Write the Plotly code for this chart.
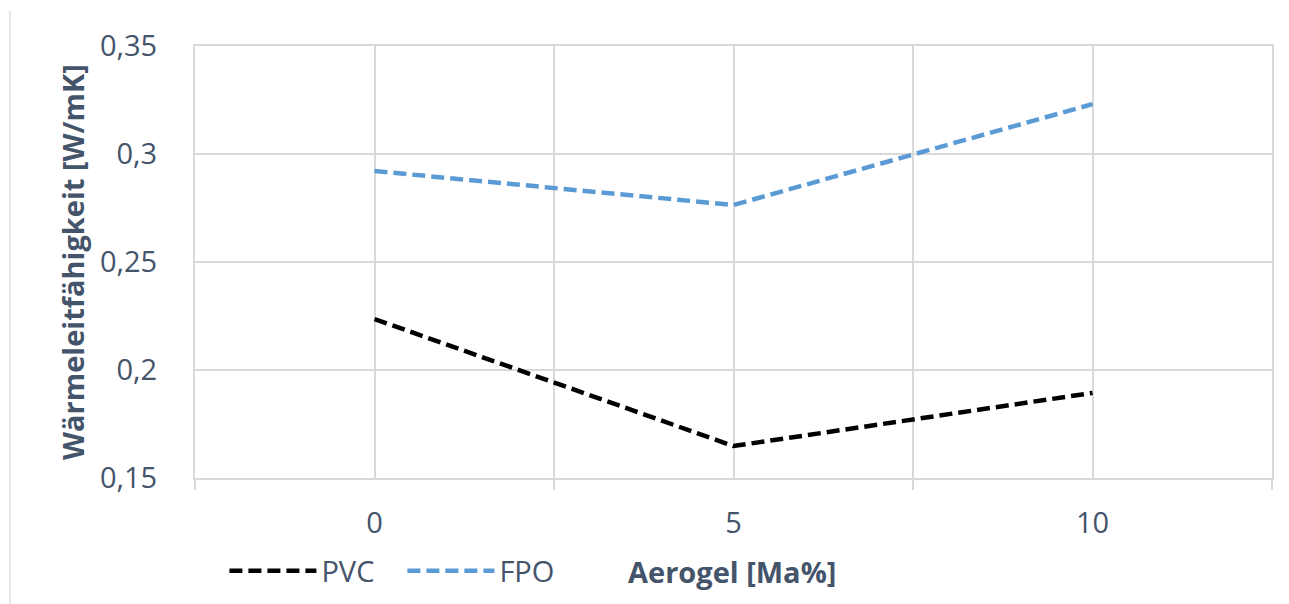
import plotly.graph_objects as go

aerogel = [0, 5, 10]
pvc = [0.2236, 0.1648, 0.1894]
fpo = [0.2921, 0.2764, 0.3231]
y_ticks = [0.15, 0.2, 0.25, 0.3, 0.35]
y_ticktext = ["0,15", "0,2", "0,25", "0,3", "0,35"]
x_ticks = [0, 5, 10]
x_ticktext = ["0", "5", "10"]
x_bounds = [-2.5, 2.5, 7.5, 12.5]

TXT = "#44546A"
GRID = "#D9D9D9"
FONT = "Open Sans"
FS = 29

FIG_H = 596
# plot area in page pixels: x 195..1272, y 46..478 ; page offset of 8px (body margin)
fig = go.Figure()
fig.add_trace(go.Scatter(x=aerogel, y=pvc, mode="lines", name="PVC",
                         line=dict(color="#000000", width=4.5, dash="13px,6px")))
fig.add_trace(go.Scatter(x=aerogel, y=fpo, mode="lines", name="FPO",
                         line=dict(color="#5B9BD5", width=4.5, dash="13px,6px")))

fig.update_layout(
    width=1281, height=FIG_H,
    margin=dict(l=187, r=17, t=38, b=126),
    paper_bgcolor="white", plot_bgcolor="white",
    font=dict(family=FONT, size=FS, color=TXT),
    showlegend=True,
    legend=dict(orientation="h", xref="paper", x=0.0273, xanchor="left",
                yref="container", y=1 - (571 - 8) / FIG_H, yanchor="middle",
                itemwidth=87, entrywidth=76, font=dict(family=FONT, size=FS, color=TXT),
                bgcolor="rgba(0,0,0,0)", tracegroupgap=0),
    xaxis=dict(range=[-2.5, 12.5], tickvals=x_ticks, ticktext=x_ticktext,
               showgrid=True, gridcolor=GRID, gridwidth=2, zeroline=False,
               showline=True, linecolor=GRID, linewidth=2, mirror=True,
               ticks="", ticklabelstandoff=18, automargin=False,
               minor=dict(tickvals=x_bounds, ticks="outside", ticklen=10, tickcolor=GRID,
                          tickwidth=2, showgrid=True, gridcolor=GRID, gridwidth=2),
               tickfont=dict(family=FONT, size=FS, color=TXT)),
    yaxis=dict(range=[0.15, 0.35], tickvals=y_ticks, ticktext=y_ticktext,
               showgrid=True, gridcolor=GRID, gridwidth=2, zeroline=False,
               showline=True, linecolor=GRID, linewidth=2, mirror=True,
               ticks="", ticklabelstandoff=30, automargin=False,
               tickfont=dict(family=FONT, size=FS, color=TXT)),
    annotations=[
        dict(text="<b>Wärmeleitfähigkeit [W/mK]</b>", textangle=-90,
             xref="paper", yref="paper", x=-123 / 1077, y=0.5, xanchor="center", yanchor="middle",
             showarrow=False, font=dict(family=FONT, size=FS, color=TXT)),
        dict(text="<b>Aerogel [Ma%]</b>",
             xref="paper", yref="paper", x=(732 - 195) / 1077, y=-(571 - 478) / 432,
             xanchor="center", yanchor="middle",
             showarrow=False, font=dict(family=FONT, size=FS, color=TXT)),
    ],
    shapes=[
        dict(type="line", xref="paper", yref="paper",
             x0=(10 - 195) / 1077, x1=(10 - 195) / 1077, y0=(478 - 11) / 432, y1=-(604 - 478) / 432,
             line=dict(color="#E3E7EE", width=2)),
        dict(type="line", xref="paper", yref="paper",
             x0=(1288 - 195) / 1077, x1=(1288 - 195) / 1077, y0=(478 - 11) / 432, y1=-(604 - 478) / 432,
             line=dict(color="#E3E7EE", width=2)),
    ],
)

fig.write_html("out.html")
